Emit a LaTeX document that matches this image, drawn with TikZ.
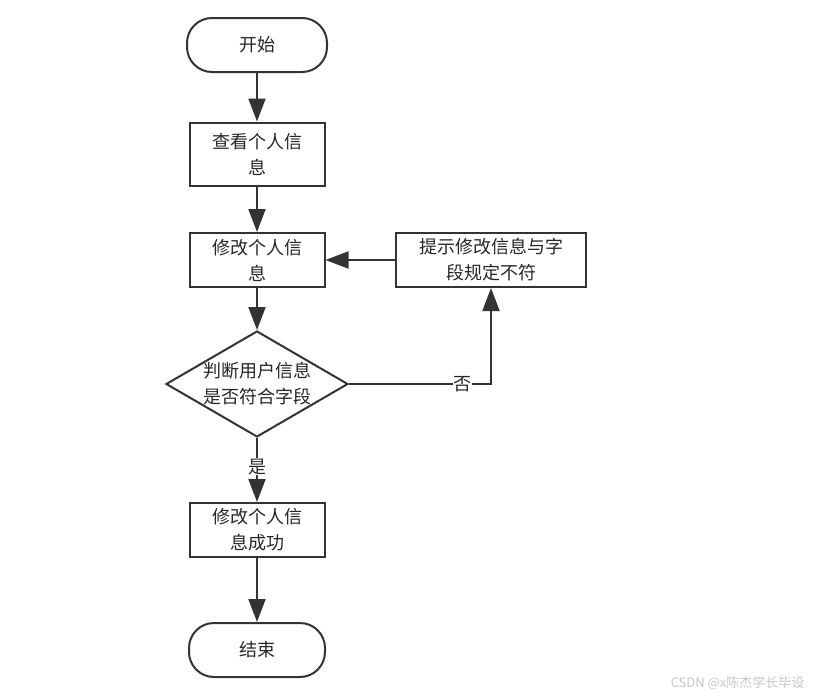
\documentclass[tikz,border=0pt]{standalone}
\usepackage{fontspec}
\setmainfont{Noto Sans CJK SC}
\usepackage{tikz}
\usetikzlibrary{positioning,shapes.geometric,arrows.meta}
\definecolor{linegray}{HTML}{333333}

\begin{document}
\begin{tikzpicture}[%
      >={Triangle[length=23pt,width=17pt]}, % Big solid heads, as in the flowchart
      node distance=109pt and 233pt,        % Global setup of box spacing
      every node/.style={font=\fontsize{18}{26}\selectfont},
      ]
  \tikzset{
    base/.style={draw=linegray, line width=2pt, on grid, align=center, text=black!85},
    term/.style={base, rectangle, rounded corners=25pt, minimum width=140pt, minimum height=54pt},
    proc/.style={base, rectangle, minimum width=135pt, minimum height=54pt},
    info/.style={base, rectangle, minimum width=190pt, minimum height=54pt},
    test/.style={base, diamond, aspect=1.72, inner sep=0pt, minimum width=182pt, minimum height=106pt},
    norm/.style={->, draw=linegray, line width=2pt},
    lbl/.style={fill=white, inner sep=0.5pt, text=black!85},
  }
  \useasboundingbox (0,0) rectangle (831pt,-699pt);

  % Define the processes in the middle
  \node [term] at (257pt,-45pt)           (start) {开始};
  \node [proc, minimum height=63pt, below=of start] (view)  {查看个人信\\息};
  \node [proc, below=106pt of view]       (edit)  {修改个人信\\息};
  \node [test, below=124pt of edit]       (check) {判断用户信息\\是否符合字段};
  \node [proc, below=146pt of check]      (done)  {修改个人信\\息成功};
  \node [term, minimum width=136pt, below=120pt of done] (stop) {结束};

  % Define the process to the right
  \node [info, right=234pt of edit]       (hint)  {提示修改信息与字\\段规定不符};

  % Main flow
  \draw [norm] (start) -- (view);
  \draw [norm] (view)  -- (edit);
  \draw [norm] (edit)  -- (check);
  \draw [norm] (check) -- node[lbl, pos=0.45]{是} (done);
  \draw [norm] (done)  -- (stop);

  % Back loop
  \draw [norm] (check) -| node[lbl, pos=0.4]{否} (hint);
  \draw [norm] (hint)  -- (edit);

  % Watermark
  \node [anchor=east, text=black!22, font=\fontsize{13}{15}\selectfont] (mark) at (808pt,-683pt) {CSDN @x陈杰学长毕设};

\end{tikzpicture}
\end{document}
